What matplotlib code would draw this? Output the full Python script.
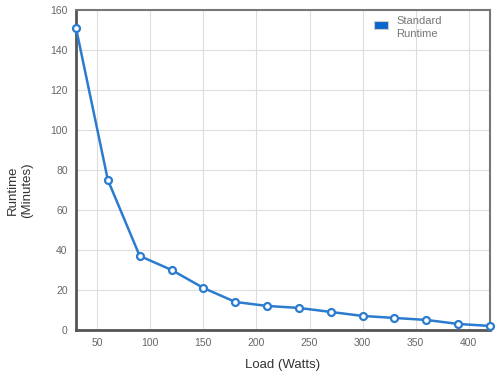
import matplotlib.pyplot as plt
from matplotlib.patches import Rectangle

plt.rcParams['font.family'] = ['Liberation Sans', 'DejaVu Sans']

# data
load_watts = [30, 60, 90, 120, 150, 180, 210, 240, 270, 300, 330, 360, 390, 420]
runtime_min = [151, 75, 37, 30, 21, 14, 12, 11, 9, 7, 6, 5, 3, 2]
x_ticks = [50, 100, 150, 200, 250, 300, 350, 400]
y_ticks = [0, 20, 40, 60, 80, 100, 120, 140, 160]

blue = '#2b7bcf'

fig = plt.figure(figsize=(5, 3.81), dpi=100)
ax = fig.add_axes([0.152, 0.134, 0.828, 0.84])

ax.plot(load_watts, runtime_min, color=blue, lw=1.8, marker='o', ms=5,
        mfc='white', mec=blue, mew=1.6, zorder=3, clip_on=False)

ax.set_xlim(30, 420)
ax.set_ylim(0, 160)
ax.set_xticks(x_ticks)
ax.set_yticks(y_ticks)
ax.grid(color='#dddddd', lw=0.8)
ax.set_axisbelow(True)
ax.tick_params(length=0, labelsize=7.5, labelcolor='#666666', pad=6)

for side in ['left', 'bottom']:
    ax.spines[side].set_color('#555555')
    ax.spines[side].set_linewidth(2)
for side in ['top', 'right']:
    ax.spines[side].set_color('#777777')
    ax.spines[side].set_linewidth(1.5)

ax.set_xlabel('Load (Watts)', fontsize=9.5, color='#333333', labelpad=8)
fig.text(0.04, 0.5, 'Runtime\n(Minutes)', rotation=90, fontsize=9.5,
         color='#333333', ha='center', va='center', multialignment='center')

# legend drawn by hand so the swatch sits beside the first line
ax.add_patch(Rectangle((0.72, 0.94), 0.034, 0.026, transform=ax.transAxes,
                       facecolor='#0a66cc', edgecolor='#cccccc', lw=0.8,
                       zorder=4))
ax.text(0.773, 0.98, 'Standard\nRuntime', transform=ax.transAxes, fontsize=8,
        color='#777777', ha='left', va='top', linespacing=1.35, zorder=4)

fig.savefig('out.png', dpi=100)
